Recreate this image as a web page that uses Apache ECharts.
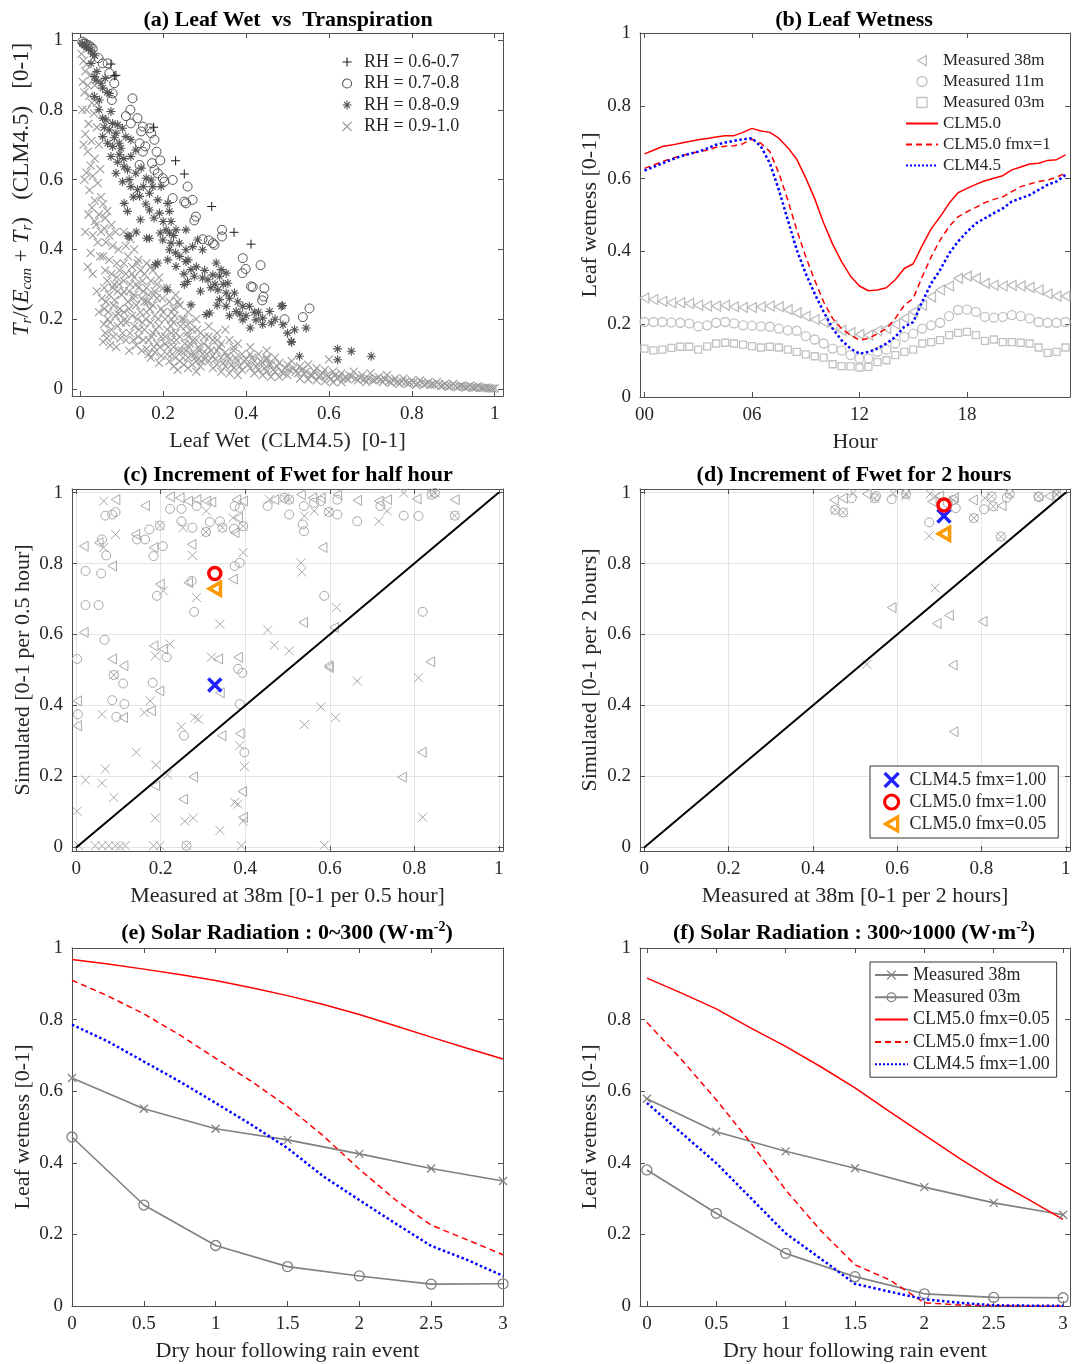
<!DOCTYPE html>
<html><head><meta charset="utf-8">
<script src="https://cdn.jsdelivr.net/npm/echarts@6/dist/echarts.min.js"></script>
<style>html,body{margin:0;padding:0;background:#fff}#c{width:1072px;height:1364px}</style>
</head><body><div id="c"></div>
<script>
// ================= DATA =================
const unitTicks = [0, 0.2, 0.4, 0.6, 0.8, 1];
const hourTicks = [0, 6, 12, 18];
const dryTicks = [0, 0.5, 1, 1.5, 2, 2.5, 3];

// ---- (a) Leaf Wet vs Transpiration : [leaf wet, Tr/(Ecan+Tr)]
const aRH67 = [[0.074,0.931],[0.082,0.897],[0.086,0.899],[0.177,0.750],[0.230,0.654],[0.251,0.616],[0.317,0.523],[0.371,0.449],[0.412,0.415]];
const aRH78 = [[0.005,0.995],[0.012,0.99],[0.02,0.985],[0.03,0.975],[0.008,0.99],[0.016,0.985],[0.025,0.98],[0.044,0.948],[0.054,0.933],[0.066,0.933],[0.070,0.905],[0.082,0.876],[0.078,0.847],[0.076,0.828],[0.126,0.833],[0.121,0.800],[0.110,0.782],[0.138,0.776],[0.122,0.761],[0.151,0.752],[0.167,0.747],[0.147,0.738],[0.171,0.733],[0.179,0.714],[0.143,0.704],[0.157,0.695],[0.184,0.680],[0.151,0.680],[0.193,0.655],[0.143,0.642],[0.173,0.647],[0.179,0.628],[0.187,0.618],[0.199,0.604],[0.203,0.594],[0.223,0.599],[0.259,0.580],[0.223,0.547],[0.251,0.537],[0.255,0.532],[0.271,0.542],[0.279,0.494],[0.275,0.483],[0.342,0.456],[0.342,0.437],[0.295,0.429],[0.310,0.426],[0.320,0.418],[0.324,0.413],[0.392,0.375],[0.435,0.355],[0.399,0.344],[0.391,0.332],[0.412,0.294],[0.416,0.292],[0.444,0.289],[0.442,0.265],[0.439,0.254],[0.553,0.231],[0.493,0.200],[0.537,0.206]];
const aRH89 = [[0.005,0.99],[0.01,0.985],[0.015,0.98],[0.02,0.975],[0.025,0.97],[0.03,0.96],[0.035,0.955],[0.026,0.933],[0.034,0.895],[0.038,0.885],[0.050,0.876],[0.054,0.862],[0.034,0.838],[0.046,0.828],[0.070,0.847],[0.074,0.795],[0.054,0.776],[0.062,0.771],[0.078,0.761],[0.090,0.757],[0.054,0.723],[0.070,0.742],[0.086,0.733],[0.102,0.747],[0.110,0.723],[0.066,0.704],[0.078,0.695],[0.094,0.704],[0.122,0.714],[0.074,0.666],[0.094,0.671],[0.122,0.666],[0.134,0.685],[0.106,0.637],[0.114,0.628],[0.134,0.618],[0.147,0.633],[0.086,0.618],[0.102,0.594],[0.122,0.580],[0.138,0.571],[0.159,0.604],[0.171,0.599],[0.175,0.580],[0.167,0.561],[0.143,0.552],[0.106,0.532],[0.114,0.509],[0.167,0.513],[0.187,0.542],[0.195,0.580],[0.191,0.504],[0.211,0.532],[0.215,0.509],[0.219,0.480],[0.207,0.456],[0.167,0.432],[0.118,0.437],[0.199,0.427],[0.215,0.447],[0.231,0.456],[0.255,0.456],[0.219,0.418],[0.215,0.399],[0.239,0.418],[0.255,0.399],[0.271,0.408],[0.283,0.427],[0.295,0.399],[0.211,0.370],[0.231,0.351],[0.187,0.361],[0.255,0.365],[0.267,0.342],[0.275,0.323],[0.259,0.308],[0.295,0.318],[0.308,0.313],[0.320,0.327],[0.336,0.323],[0.328,0.361],[0.340,0.342],[0.352,0.332],[0.356,0.303],[0.332,0.284],[0.352,0.275],[0.372,0.275],[0.336,0.256],[0.312,0.218],[0.304,0.213],[0.352,0.237],[0.376,0.222],[0.392,0.237],[0.408,0.237],[0.392,0.198],[0.424,0.198],[0.440,0.203],[0.457,0.222],[0.461,0.189],[0.485,0.237],[0.489,0.184],[0.509,0.136],[0.517,0.170],[0.545,0.175],[0.529,0.094],[0.267,0.241],[0.251,0.299],[0.621,0.115],[0.621,0.084],[0.654,0.108],[0.702,0.094],[0.488,0.239],[0.510,0.134],[0.115,0.439],[0.160,0.432],[0.193,0.447],[0.210,0.284],[0.181,0.356],
[0.04,0.91],[0.06,0.89],[0.065,0.85],[0.045,0.8],[0.058,0.75],[0.082,0.72],[0.098,0.69],[0.105,0.66],[0.09,0.65],[0.118,0.6],[0.128,0.55],[0.152,0.58],[0.158,0.53],[0.178,0.49],[0.2,0.48],[0.225,0.44],[0.24,0.38],[0.26,0.37],[0.28,0.35],[0.3,0.34],[0.315,0.29],[0.325,0.3],[0.345,0.3],[0.36,0.26],[0.38,0.25],[0.4,0.21],[0.42,0.22],[0.44,0.185],[0.47,0.2],[0.5,0.16],[0.23,0.39],[0.25,0.33],[0.29,0.28],[0.33,0.24],[0.36,0.21],[0.385,0.215],[0.41,0.175],[0.43,0.22],[0.145,0.485],[0.135,0.45]];
const aRH910 = [[0.003,0.96],[0.008,0.94],[0.012,0.91],[0.006,0.88],[0.018,0.87],[0.022,0.84],[0.01,0.85],[0.028,0.82],[0.015,0.80],[0.033,0.79],[0.02,0.76],[0.04,0.75],[0.012,0.73],[0.027,0.71],[0.045,0.70],[0.018,0.68],[0.035,0.66],[0.025,0.64],[0.048,0.63],[0.03,0.61],[0.042,0.59],[0.022,0.57],[0.05,0.55],[0.035,0.54],[0.028,0.52],[0.045,0.50],[0.038,0.47],[0.05,0.45],[0.03,0.44],[0.042,0.42],[0.025,0.39],[0.048,0.38],
[0.005,0.8],[0.008,0.7],[0.01,0.6],[0.015,0.62],[0.02,0.5],[0.012,0.45],[0.018,0.35],[0.03,0.33],[0.04,0.28],[0.035,0.48],[0.045,0.22],[0.015,0.93],[0.025,0.9],[0.035,0.87],[0.04,0.82],
[0.055,0.53],[0.065,0.51],[0.06,0.49],[0.075,0.47],[0.058,0.46],[0.07,0.44],[0.085,0.45],[0.062,0.42],[0.078,0.41],[0.092,0.40],[0.055,0.38],[0.07,0.37],[0.088,0.36],[0.06,0.34],[0.075,0.33],[0.095,0.34],[0.065,0.31],[0.082,0.30],[0.058,0.29],[0.09,0.28],[0.07,0.27],[0.1,0.27],[0.062,0.25],[0.08,0.24],[0.095,0.23],[0.068,0.22],[0.085,0.21],[0.072,0.19],[0.09,0.18],[0.06,0.16],[0.08,0.15],[0.055,0.135],
[0.052,0.26],[0.058,0.23],[0.066,0.2],[0.075,0.17],[0.083,0.255],[0.092,0.215],[0.098,0.19],[0.057,0.185],[0.064,0.145],[0.072,0.125],[0.087,0.12],[0.097,0.145],[0.078,0.29],[0.088,0.32],[0.094,0.3],
[0.105,0.45],[0.12,0.43],[0.11,0.41],[0.13,0.40],[0.115,0.38],[0.14,0.37],[0.105,0.36],[0.125,0.35],[0.145,0.34],[0.11,0.33],[0.13,0.32],[0.15,0.31],[0.12,0.30],[0.14,0.29],[0.105,0.28],[0.13,0.27],[0.148,0.26],[0.115,0.25],[0.135,0.24],[0.105,0.22],[0.125,0.21],[0.145,0.22],[0.11,0.19],[0.13,0.18],[0.15,0.19],[0.12,0.16],[0.14,0.15],[0.11,0.14],[0.135,0.125],
[0.102,0.16],[0.108,0.2],[0.118,0.23],[0.128,0.26],[0.138,0.2],[0.142,0.17],[0.152,0.14],[0.158,0.2],[0.168,0.23],[0.172,0.15],[0.182,0.17],[0.188,0.2],[0.192,0.12],[0.198,0.26],[0.118,0.11],[0.128,0.14],[0.148,0.11],[0.165,0.1],[0.178,0.12],[0.19,0.075],[0.105,0.31],[0.118,0.28],[0.135,0.3],[0.152,0.28],[0.162,0.25],[0.178,0.27],[0.185,0.3],[0.125,0.33],[0.138,0.36],[0.17,0.35],
[0.16,0.36],[0.175,0.34],[0.155,0.33],[0.17,0.31],[0.19,0.32],[0.16,0.29],[0.18,0.28],[0.2,0.29],[0.165,0.27],[0.185,0.26],[0.155,0.25],[0.175,0.24],[0.195,0.23],[0.16,0.22],[0.18,0.21],[0.2,0.22],[0.17,0.19],[0.19,0.18],[0.155,0.17],[0.175,0.16],[0.195,0.15],[0.165,0.14],[0.185,0.13],[0.16,0.115],[0.18,0.105],[0.195,0.095],[0.17,0.09],
[0.21,0.29],[0.23,0.27],[0.215,0.25],[0.24,0.24],[0.22,0.22],[0.205,0.20],[0.225,0.19],[0.245,0.20],[0.21,0.17],[0.23,0.16],[0.22,0.14],[0.24,0.15],[0.205,0.13],[0.225,0.12],[0.245,0.11],[0.21,0.10],[0.23,0.09],[0.215,0.08],[0.24,0.08],[0.225,0.065],[0.25,0.07],[0.235,0.055],
[0.205,0.15],[0.212,0.12],[0.218,0.18],[0.222,0.1],[0.228,0.21],[0.232,0.14],[0.238,0.11],[0.242,0.18],[0.248,0.09],[0.252,0.13],[0.258,0.16],[0.262,0.12],[0.268,0.1],[0.272,0.14],[0.278,0.09],[0.282,0.17],[0.288,0.11],[0.292,0.08],[0.298,0.13],[0.235,0.25],[0.25,0.2],[0.265,0.19],[0.22,0.16],[0.22,0.2],[0.225,0.23],
[0.26,0.22],[0.28,0.20],[0.255,0.18],[0.27,0.17],[0.29,0.16],[0.26,0.15],[0.28,0.14],[0.3,0.15],[0.265,0.13],[0.285,0.12],[0.255,0.11],[0.275,0.10],[0.295,0.10],[0.26,0.09],[0.28,0.08],[0.3,0.085],[0.27,0.07],[0.29,0.065],[0.26,0.06],[0.28,0.05],
[0.31,0.18],[0.33,0.16],[0.35,0.17],[0.32,0.14],[0.34,0.13],[0.36,0.14],[0.38,0.13],[0.31,0.12],[0.33,0.11],[0.35,0.105],[0.37,0.11],[0.39,0.10],[0.32,0.095],[0.34,0.09],[0.36,0.085],[0.38,0.08],[0.4,0.085],[0.31,0.08],[0.33,0.07],[0.35,0.065],[0.37,0.06],[0.39,0.055],[0.32,0.06],[0.34,0.05],[0.36,0.045],[0.38,0.04],
[0.305,0.1],[0.315,0.11],[0.325,0.085],[0.335,0.12],[0.345,0.075],[0.355,0.095],[0.365,0.07],[0.375,0.09],[0.385,0.065],[0.395,0.08],[0.405,0.07],[0.415,0.09],[0.425,0.065],[0.435,0.08],[0.445,0.06],[0.455,0.07],[0.465,0.055],[0.475,0.065],[0.485,0.05],[0.495,0.06],[0.33,0.14],[0.37,0.12],[0.41,0.1],[0.45,0.085],[0.31,0.15],
[0.41,0.12],[0.43,0.10],[0.45,0.11],[0.47,0.09],[0.42,0.08],[0.44,0.075],[0.46,0.07],[0.48,0.075],[0.5,0.07],[0.41,0.06],[0.43,0.055],[0.45,0.05],[0.47,0.05],[0.49,0.045],[0.42,0.045],[0.44,0.04],[0.46,0.035],[0.48,0.035],[0.5,0.04],[0.45,0.09],
[0.51,0.08],[0.53,0.065],[0.55,0.07],[0.57,0.06],[0.59,0.055],[0.61,0.05],[0.63,0.045],[0.52,0.05],[0.54,0.045],[0.56,0.04],[0.58,0.04],[0.6,0.035],[0.62,0.03],[0.64,0.035],[0.53,0.03],[0.55,0.028],[0.57,0.025],[0.59,0.022],[0.61,0.02],[0.63,0.02],[0.65,0.04],[0.6,0.085],
[0.505,0.055],[0.515,0.06],[0.525,0.045],[0.535,0.055],[0.545,0.05],[0.555,0.04],[0.565,0.05],[0.575,0.035],[0.585,0.045],[0.595,0.04],[0.605,0.03],[0.615,0.04],[0.625,0.035],[0.635,0.03],[0.645,0.028],[0.655,0.035],[0.665,0.03],[0.675,0.032],[0.685,0.028],[0.695,0.03],[0.705,0.025],[0.715,0.03],[0.725,0.026],[0.735,0.028],[0.745,0.022],[0.755,0.025],[0.765,0.02],[0.775,0.022],[0.785,0.02],[0.795,0.018],[0.805,0.02],[0.815,0.016],[0.825,0.018],[0.835,0.015],[0.845,0.012],[0.855,0.012],[0.865,0.013],[0.875,0.01],[0.885,0.01],[0.895,0.009],[0.905,0.008],[0.915,0.008],[0.925,0.007],[0.935,0.006],[0.945,0.005],[0.955,0.005],[0.965,0.004],[0.975,0.003],[0.985,0.002],[0.995,0.001],
[0.66,0.05],[0.68,0.04],[0.7,0.045],[0.72,0.035],[0.74,0.04],[0.76,0.03],[0.78,0.03],[0.8,0.025],[0.82,0.025],[0.84,0.02],[0.67,0.025],[0.69,0.02],[0.71,0.025],[0.73,0.02],[0.75,0.018],[0.77,0.015],[0.79,0.015],[0.81,0.012],[0.83,0.012],[0.85,0.015],
[0.86,0.02],[0.88,0.015],[0.9,0.015],[0.92,0.01],[0.94,0.01],[0.96,0.008],[0.98,0.005],[1.0,0.002],[0.87,0.008],[0.89,0.006],[0.91,0.005],[0.93,0.004],[0.95,0.004],[0.97,0.003],[0.99,0.002]];

// ---- (b) Leaf Wetness diurnal cycle
const bHours = [0,0.5,1,1.5,2,2.5,3,3.5,4,4.5,5,5.5,6,6.5,7,7.5,8,8.5,9,9.5,10,10.5,11,11.5,12,12.5,13,13.5,14,14.5,15,15.5,16,16.5,17,17.5,18,18.5,19,19.5,20,20.5,21,21.5,22,22.5,23,23.5];
const bMeas38 = [0.272,0.268,0.263,0.259,0.259,0.257,0.252,0.250,0.250,0.252,0.248,0.246,0.246,0.248,0.250,0.248,0.240,0.231,0.222,0.213,0.206,0.197,0.183,0.177,0.172,0.170,0.182,0.188,0.200,0.216,0.234,0.252,0.275,0.294,0.305,0.326,0.332,0.326,0.312,0.307,0.305,0.307,0.305,0.301,0.294,0.283,0.277,0.277];
const bMeas11 = [0.206,0.206,0.206,0.205,0.204,0.202,0.194,0.197,0.204,0.206,0.202,0.197,0.196,0.194,0.193,0.188,0.183,0.182,0.167,0.158,0.147,0.133,0.128,0.115,0.106,0.106,0.124,0.130,0.147,0.165,0.174,0.188,0.197,0.204,0.222,0.239,0.240,0.234,0.220,0.218,0.220,0.225,0.222,0.216,0.206,0.204,0.204,0.206];
const bMeas03 = [0.133,0.128,0.130,0.135,0.138,0.138,0.130,0.139,0.147,0.149,0.147,0.144,0.140,0.136,0.138,0.136,0.130,0.124,0.117,0.112,0.108,0.090,0.085,0.084,0.081,0.083,0.096,0.101,0.115,0.124,0.130,0.147,0.151,0.156,0.170,0.176,0.179,0.170,0.154,0.158,0.151,0.151,0.149,0.147,0.136,0.121,0.124,0.136];
const bClm50 = [0.668,0.678,0.688,0.692,0.697,0.702,0.707,0.710,0.714,0.718,0.718,0.727,0.738,0.731,0.727,0.711,0.685,0.653,0.602,0.545,0.478,0.420,0.372,0.332,0.305,0.292,0.294,0.300,0.322,0.353,0.366,0.416,0.462,0.495,0.532,0.561,0.573,0.584,0.594,0.601,0.608,0.624,0.632,0.640,0.642,0.650,0.652,0.665];
const bClm50fmx1 = [0.628,0.637,0.647,0.655,0.662,0.668,0.674,0.678,0.686,0.689,0.690,0.696,0.708,0.697,0.674,0.615,0.541,0.459,0.385,0.321,0.261,0.216,0.188,0.170,0.156,0.161,0.174,0.188,0.216,0.252,0.271,0.330,0.385,0.431,0.468,0.495,0.509,0.521,0.534,0.543,0.550,0.564,0.578,0.585,0.592,0.596,0.604,0.615];
const bClm45 = [0.622,0.632,0.642,0.652,0.661,0.668,0.674,0.683,0.693,0.699,0.704,0.708,0.711,0.688,0.642,0.569,0.486,0.404,0.339,0.284,0.234,0.188,0.156,0.133,0.119,0.124,0.133,0.147,0.165,0.193,0.206,0.261,0.312,0.349,0.394,0.427,0.454,0.477,0.491,0.505,0.518,0.537,0.546,0.555,0.569,0.583,0.592,0.610];

// ---- (c) Increment of Fwet for half hour : [measured, simulated]
const cTri = [[0.093,0.980],[0.163,0.963],[0.222,0.988],[0.245,0.985],[0.265,0.976],[0.285,0.980],[0.308,0.976],[0.320,0.973],[0.379,0.980],[0.395,0.976],[0.469,0.980],[0.140,0.882],[0.375,0.887],[0.383,0.929],[0.018,0.849],[0.053,0.859],[0.183,0.845],[0.273,0.854],[0.085,0.793],[0.198,0.742],[0.265,0.746],[0.371,0.756],[0.018,0.606],[0.183,0.568],[0.206,0.559],[0.085,0.531],[0.112,0.512],[0.336,0.531],[0.383,0.536],
[0.532,0.994],[0.559,0.985],[0.579,0.985],[0.618,0.994],[0.665,0.978],[0.716,0.976],[0.736,0.980],[0.806,0.982],[0.896,0.980],[0.583,0.845],[0.537,0.634],[0.610,0.620],[0.597,0.512],[0.838,0.523],
[0.002,0.413],[0.197,0.441],[0.340,0.436],[0.111,0.366],[0.177,0.385],[0.002,0.343],[0.344,0.315],[0.387,0.321],[0.187,0.174],[0.277,0.199],[0.253,0.136],[0.393,0.158],[0.395,0.085],
[0.598,0.507],[0.818,0.268],[0.771,0.198]];
const cCirc = [[0.069,0.935],[0.085,0.938],[0.093,0.945],[0.222,0.954],[0.249,0.954],[0.285,0.962],[0.375,0.962],[0.387,0.957],[0.453,0.962],[0.144,0.868],[0.163,0.868],[0.173,0.896],[0.249,0.919],[0.275,0.901],[0.316,0.917],[0.340,0.919],[0.373,0.898],[0.061,0.868],[0.071,0.823],[0.183,0.821],[0.205,0.849],[0.022,0.779],[0.059,0.772],[0.375,0.793],[0.387,0.802],[0.191,0.709],[0.273,0.751],[0.279,0.664],[0.022,0.683],[0.053,0.683],[0.067,0.585],[0.002,0.531],[0.214,0.536],[0.383,0.503],
[0.198,0.907],[0.307,0.889],[0.346,0.901],[0.395,0.905],
[0.504,0.938],[0.539,0.962],[0.563,0.971],[0.579,0.976],[0.618,0.980],[0.618,0.938],[0.536,0.910],[0.539,0.891],[0.665,0.919],[0.720,0.962],[0.775,0.935],[0.810,0.934],[0.587,0.709],[0.820,0.664],
[0.493,0.985],[0.504,0.980],[0.598,0.945],[0.841,0.994],[0.849,0.999],[0.896,0.935],
[0.111,0.462],[0.181,0.464],[0.393,0.492],[0.085,0.415],[0.114,0.404],[0.004,0.375],[0.095,0.368],[0.387,0.404],[0.255,0.315],[0.398,0.268],[0.089,0.486],[0.261,0.005]];
const cCross = [[0.065,0.976],[0.308,0.948],[0.457,0.980],[0.093,0.882],[0.253,0.901],[0.371,0.929],[0.065,0.845],[0.275,0.823],[0.395,0.831],[0.206,0.723],[0.285,0.704],[0.340,0.629],[0.453,0.613],[0.469,0.570],[0.222,0.573],[0.187,0.540],[0.320,0.536],
[0.198,0.907],[0.307,0.889],[0.346,0.901],[0.395,0.905],
[0.540,0.934],[0.563,0.948],[0.716,0.919],[0.736,0.948],[0.775,0.999],[0.532,0.802],[0.534,0.776],[0.616,0.676],[0.504,0.554],
[0.493,0.985],[0.504,0.980],[0.598,0.945],[0.841,0.994],[0.849,0.999],[0.896,0.935],
[0.175,0.413],[0.061,0.375],[0.161,0.380],[0.249,0.340],[0.281,0.366],[0.289,0.361],[0.387,0.287],[0.398,0.228],[0.142,0.268],[0.069,0.221],[0.189,0.233],[0.216,0.205],[0.022,0.190],[0.061,0.181],[0.089,0.141],[0.375,0.127],[0.383,0.122],[0.002,0.102],[0.187,0.083],[0.257,0.074],[0.277,0.083],[0.395,0.074],[0.340,0.048],[0.089,0.486],[0.261,0.005],
[0.006,0.005],[0.045,0.005],[0.061,0.005],[0.077,0.005],[0.093,0.005],[0.104,0.003],[0.116,0.005],[0.183,0.005],[0.198,0.005],[0.391,0.005],
[0.665,0.469],[0.810,0.478],[0.579,0.396],[0.614,0.366],[0.540,0.346],[0.820,0.085],[0.587,0.006]];
const cClm45 = [[0.328,0.458]];
const cClm50fmx100 = [[0.328,0.772]];
const cClm50fmx005 = [[0.328,0.729]];

// ---- (d) Increment of Fwet for 2 hours
const dTri = [[0.450,0.979],[0.472,0.984],[0.528,0.996],[0.682,0.975],[0.780,0.979],[0.848,0.963],[0.700,0.990],[0.735,0.985],[0.960,0.990],[0.587,0.676],[0.723,0.654],[0.694,0.631],[0.803,0.637],[0.732,0.514],[0.734,0.326]];
const dCirc = [[0.492,0.984],[0.587,0.981],[0.739,0.956],[0.676,0.916],[0.806,0.953],[0.936,0.987],[0.550,0.990],[0.720,0.970],[0.860,0.985],
[0.547,0.984],[0.621,0.996],[0.453,0.951],[0.472,0.944],[0.733,0.979],[0.824,0.989],[0.828,0.961],[0.782,0.928],[0.867,0.996],[0.935,0.989],[0.978,0.993],[0.846,0.876]];
const dCross = [[0.496,0.998],[0.591,0.998],[0.678,0.996],[0.690,0.989],[0.808,0.984],[0.676,0.878],[0.690,0.731],[0.528,0.516],[0.979,0.996],[0.620,0.990],
[0.547,0.984],[0.621,0.996],[0.453,0.951],[0.472,0.944],[0.733,0.979],[0.824,0.989],[0.828,0.961],[0.782,0.928],[0.867,0.996],[0.935,0.989],[0.978,0.993],[0.846,0.876]];
const dClm45 = [[0.711,0.934]];
const dClm50fmx100 = [[0.711,0.965]];
const dClm50fmx005 = [[0.711,0.884]];

const oneToOne = [[0,0],[1,1]];

// ---- (e)/(f) Dry hours following rain event
const dryHours = [0,0.5,1,1.5,2,2.5,3];
const dryHoursSim = [0,0.25,0.5,0.75,1,1.25,1.5,1.75,2,2.25,2.5,2.75,3];
const eMeas38 = [0.637,0.551,0.495,0.464,0.425,0.384,0.349];
const eMeas03 = [0.472,0.282,0.169,0.110,0.084,0.061,0.062];
const eClm50fmx005 = [0.968,0.955,0.941,0.926,0.909,0.889,0.867,0.842,0.814,0.783,0.751,0.720,0.690];
const eClm50fmx100 = [0.910,0.866,0.816,0.757,0.692,0.627,0.557,0.475,0.382,0.297,0.226,0.185,0.143];
const eClm45fmx100 = [0.786,0.739,0.683,0.627,0.567,0.506,0.441,0.362,0.296,0.231,0.168,0.129,0.084];
const fMeas38 = [0.579,0.487,0.432,0.385,0.332,0.288,0.255];
const fMeas03 = [0.380,0.259,0.147,0.082,0.034,0.024,0.023];
const fClm50fmx005 = [0.916,0.874,0.830,0.776,0.725,0.669,0.609,0.543,0.478,0.413,0.352,0.298,0.242];
const fClm50fmx100 = [0.792,0.688,0.576,0.455,0.324,0.212,0.115,0.073,0.009,0.003,0.001,0,0];
const fClm45fmx100 = [0.567,0.483,0.399,0.301,0.203,0.133,0.062,0.040,0.019,0.009,0.002,0.001,0.001];

// ================= STYLE / BUILD =================
const FONT = 'Liberation Serif';
const AX = '#505050';
const TXT = '#262626';
const SYM_X = 'path://M0,0L10,10M0,10L10,0';
const SYM_PLUS = 'path://M5,0L5,10M0,5L10,5';
const SYM_AST = 'path://M5,0L5,10M0,5L10,5M1.6,1.6L8.4,8.4M1.6,8.4L8.4,1.6';
const SYM_TRIL = 'path://M8.66,0L0,5L8.66,10Z';
const SYM_SQ = 'path://M0,0L10,0L10,10L0,10Z';
const CLEAR = 'rgba(0,0,0,0)';
const RED = '#ff0000', BLUE = '#0000ff', ORANGE = '#ff9900', GREY = '#808080';

const numFmt = v => String(Math.round(v * 100) / 100);
const hourFmt = v => (v < 10 ? '0' : '') + v;
const strip = n => n.slice(n.indexOf('|') + 1);
const pairs = (xs, ys) => xs.map((x, i) => [x, ys[i]]);
const lineOnly = name => ({name, itemStyle: {color: CLEAR, borderColor: CLEAR, borderWidth: 0}});

const grids = [
  {left: 72, top: 33, width: 431, height: 363},
  {left: 640, top: 33, width: 430, height: 364},
  {left: 72, top: 489, width: 431, height: 362},
  {left: 640, top: 489, width: 430, height: 362},
  {left: 72, top: 948, width: 431, height: 358},
  {left: 640, top: 948, width: 430, height: 358}
].map(g => Object.assign(g, {containLabel: false, outerBoundsMode: 'none'}));

const xAxes = [], yAxes = [];
function addAxes(gi, xr, xt, yr, yt, o) {
  const base = {type: 'value', gridIndex: gi,
    axisLine: {show: true, onZero: false, lineStyle: {color: AX, width: 1}},
    axisPointer: {show: false}};
  const tick = t => ({show: true, inside: true, length: 5, customValues: t, lineStyle: {color: AX, width: 1}});
  const nameStyle = {fontFamily: FONT, fontSize: 22, color: TXT};
  const split = {show: !!o.grid, lineStyle: {color: '#e4e4e4', width: 1}};
  xAxes.push(Object.assign({}, base, {min: xr[0], max: xr[1], position: 'bottom', axisTick: tick(xt),
    axisLabel: {show: true, customValues: xt, margin: 9, color: TXT, fontFamily: FONT, fontSize: 19, formatter: o.xFmt || numFmt},
    splitLine: split, name: o.xName, nameLocation: 'middle', nameGap: 34, nameTextStyle: nameStyle}));
  xAxes.push(Object.assign({}, base, {min: xr[0], max: xr[1], position: 'top', axisTick: tick(xt),
    axisLabel: {show: false}, splitLine: {show: false}}));
  yAxes.push(Object.assign({}, base, {min: yr[0], max: yr[1], position: 'left', axisTick: tick(yt),
    axisLabel: {show: true, customValues: yt, margin: 9, color: TXT, fontFamily: FONT, fontSize: 19, formatter: numFmt},
    splitLine: split, name: o.yName, nameLocation: 'middle', nameRotate: 90, nameGap: o.yGap || 38,
    nameTextStyle: o.yNameStyle || nameStyle}));
  yAxes.push(Object.assign({}, base, {min: yr[0], max: yr[1], position: 'right', axisTick: tick(yt),
    axisLabel: {show: false}, splitLine: {show: false}}));
}

addAxes(0, [-0.02, 1.02], unitTicks, [-0.02, 1.02], unitTicks, {
  xName: 'Leaf Wet  (CLM4.5)  [0-1]', yGap: 37,
  yName: '{i|T}{s|r}{n|/(}{i|E}{s|can}{n| + }{i|T}{s|r}{n|)   (CLM4.5)   [0-1]}',
  yNameStyle: {fontFamily: FONT, fontSize: 23, color: TXT, padding: [0, 0, 0, 50],
    rich: {
      i: {fontFamily: FONT, fontStyle: 'italic', fontSize: 23, lineHeight: 26, color: TXT},
      s: {fontFamily: FONT, fontStyle: 'italic', fontSize: 15, lineHeight: 15, verticalAlign: 'bottom', color: TXT},
      n: {fontFamily: FONT, fontSize: 23, lineHeight: 26, color: TXT}
    }}
});
addAxes(1, [-0.25, 23.75], hourTicks, [0, 1], unitTicks, {xName: 'Hour', yName: 'Leaf wetness [0-1]', xFmt: hourFmt, yGap: 39});
addAxes(2, [-0.01, 1.01], unitTicks, [-0.01, 1.01], unitTicks, {grid: true, xName: 'Measured at 38m [0-1 per 0.5 hour]', yName: 'Simulated [0-1 per 0.5 hour]', yGap: 38});
addAxes(3, [-0.01, 1.01], unitTicks, [-0.01, 1.01], unitTicks, {grid: true, xName: 'Measured at 38m [0-1 per 2 hours]', yName: 'Simulated [0-1 per 2 hours]', yGap: 39});
addAxes(4, [0, 3], dryTicks, [0, 1], unitTicks, {xName: 'Dry hour following rain event', yName: 'Leaf wetness [0-1]', yGap: 38});
addAxes(5, [-0.05, 3.05], dryTicks, [0, 1], unitTicks, {xName: 'Dry hour following rain event', yName: 'Leaf wetness [0-1]', yGap: 39});

function sc(name, gi, data, symbol, size, color, lw, z) {
  return {type: 'scatter', name, xAxisIndex: 2 * gi, yAxisIndex: 2 * gi, data, symbol, symbolSize: size,
    symbolKeepAspect: true, clip: false, silent: true, z: z || 2,
    itemStyle: {color: CLEAR, borderColor: color, borderWidth: lw, opacity: 1}};
}
function ln(name, gi, data, color, width, type, z) {
  return {type: 'line', name, xAxisIndex: 2 * gi, yAxisIndex: 2 * gi, data, symbol: 'none', silent: true, z: z || 3,
    itemStyle: {color: color}, lineStyle: {color: color, width: width, type: type}};
}
function mln(name, gi, data, symbol, size) {
  return {type: 'line', name, xAxisIndex: 2 * gi, yAxisIndex: 2 * gi, data, symbol, symbolSize: size, showSymbol: true,
    symbolKeepAspect: true, silent: true, z: 3,
    itemStyle: {color: CLEAR, borderColor: GREY, borderWidth: 1.3, opacity: 1}, lineStyle: {color: GREY, width: 1.6}};
}

const series = [
  // (a)
  sc('a|RH = 0.9-1.0', 0, aRH910, SYM_X, 8, '#9c9c9c', 1.1, 2),
  sc('a|RH = 0.8-0.9', 0, aRH89, SYM_AST, 9, '#555555', 1.1, 3),
  sc('a|RH = 0.7-0.8', 0, aRH78, 'circle', 9, '#555555', 1, 4),
  sc('a|RH = 0.6-0.7', 0, aRH67, SYM_PLUS, 9, '#1a1a1a', 1, 5),
  // (b)
  sc('b|Measured 38m', 1, pairs(bHours, bMeas38), SYM_TRIL, 10, '#bdbdbd', 1.3, 2),
  sc('b|Measured 11m', 1, pairs(bHours, bMeas11), 'circle', 9, '#c2c2c2', 1.3, 2),
  sc('b|Measured 03m', 1, pairs(bHours, bMeas03), SYM_SQ, 7, '#c2c2c2', 1.3, 2),
  ln('b|CLM5.0', 1, pairs(bHours, bClm50), RED, 1.5, 'solid'),
  ln('b|CLM5.0 fmx=1', 1, pairs(bHours, bClm50fmx1), RED, 1.5, [6, 4]),
  ln('b|CLM4.5', 1, pairs(bHours, bClm45), BLUE, 2.5, 'dotted'),
  // (c)
  sc('c|tri', 2, cTri, SYM_TRIL, 10, '#a8a8a8', 1, 2),
  sc('c|circ', 2, cCirc, 'circle', 9, '#a8a8a8', 1, 2),
  sc('c|cross', 2, cCross, SYM_X, 9, '#a8a8a8', 1, 2),
  ln('c|1:1', 2, oneToOne, '#000000', 2, 'solid', 4),
  sc('c|CLM4.5 fmx=1.00', 2, cClm45, SYM_X, 13, '#2222ff', 3.5, 6),
  sc('c|CLM5.0 fmx=1.00', 2, cClm50fmx100, 'circle', 12, RED, 3.5, 6),
  sc('c|CLM5.0 fmx=0.05', 2, cClm50fmx005, SYM_TRIL, 13, ORANGE, 3.5, 6),
  // (d)
  sc('d|tri', 3, dTri, SYM_TRIL, 10, '#a8a8a8', 1, 2),
  sc('d|circ', 3, dCirc, 'circle', 9, '#a8a8a8', 1, 2),
  sc('d|cross', 3, dCross, SYM_X, 9, '#a8a8a8', 1, 2),
  ln('d|1:1', 3, oneToOne, '#000000', 2, 'solid', 4),
  sc('d|CLM4.5 fmx=1.00', 3, dClm45, SYM_X, 13, '#2222ff', 3.5, 6),
  sc('d|CLM5.0 fmx=1.00', 3, dClm50fmx100, 'circle', 12, RED, 3.5, 6),
  sc('d|CLM5.0 fmx=0.05', 3, dClm50fmx005, SYM_TRIL, 13, ORANGE, 3.5, 6),
  // (e)
  mln('e|Measured 38m', 4, pairs(dryHours, eMeas38), SYM_X, 8),
  mln('e|Measured 03m', 4, pairs(dryHours, eMeas03), 'circle', 10),
  ln('e|CLM5.0 fmx=0.05', 4, pairs(dryHoursSim, eClm50fmx005), RED, 1.5, 'solid'),
  ln('e|CLM5.0 fmx=1.00', 4, pairs(dryHoursSim, eClm50fmx100), RED, 1.5, [6, 4]),
  ln('e|CLM4.5 fmx=1.00', 4, pairs(dryHoursSim, eClm45fmx100), BLUE, 2.5, 'dotted'),
  // (f)
  mln('f|Measured 38m', 5, pairs(dryHours, fMeas38), SYM_X, 8),
  mln('f|Measured 03m', 5, pairs(dryHours, fMeas03), 'circle', 10),
  ln('f|CLM5.0 fmx=0.05', 5, pairs(dryHoursSim, fClm50fmx005), RED, 1.5, 'solid'),
  ln('f|CLM5.0 fmx=1.00', 5, pairs(dryHoursSim, fClm50fmx100), RED, 1.5, [6, 4]),
  ln('f|CLM4.5 fmx=1.00', 5, pairs(dryHoursSim, fClm45fmx100), BLUE, 2.5, 'dotted')
];

const titleStyle = {fontFamily: FONT, fontWeight: 'bold', fontSize: 22, color: '#000', lineHeight: 26,
  rich: {sup: {fontFamily: FONT, fontWeight: 'bold', fontSize: 14, lineHeight: 14, verticalAlign: 'top', color: '#000'}}};
const mkTitle = (text, x, y) => ({text, left: x, top: y, textAlign: 'center', padding: 0, textStyle: titleStyle});

const legText = {fontFamily: FONT, fontSize: 17, color: TXT, lineHeight: 17};
const legText18 = {fontFamily: FONT, fontSize: 18, color: TXT, lineHeight: 18};
const option = {
  animation: false,
  backgroundColor: '#ffffff',
  title: [
    mkTitle('(a) Leaf Wet  vs  Transpiration', 288, 7),
    mkTitle('(b) Leaf Wetness', 854, 7),
    mkTitle('(c) Increment of Fwet for half hour', 288, 462),
    mkTitle('(d) Increment of Fwet for 2 hours', 854, 462),
    mkTitle('(e) Solar Radiation : 0~300 (W·m{sup|-2})', 287, 920),
    mkTitle('(f) Solar Radiation : 300~1000 (W·m{sup|-2})', 854, 920)
  ],
  grid: grids,
  xAxis: xAxes,
  yAxis: yAxes,
  legend: [
    {orient: 'vertical', left: 342, top: 53, padding: 0, itemWidth: 24, itemHeight: 9, itemGap: 3.5,
      selectedMode: false, formatter: strip, textStyle: legText18, itemStyle: {color: CLEAR, borderWidth: 1.1},
      data: ['a|RH = 0.6-0.7', 'a|RH = 0.7-0.8', 'a|RH = 0.8-0.9', 'a|RH = 0.9-1.0']},
    {orient: 'vertical', left: 905, top: 52, padding: 0, itemWidth: 32, itemHeight: 10, itemGap: 4,
      selectedMode: false, formatter: strip, textStyle: legText, itemStyle: {color: CLEAR, borderWidth: 1.3},
      data: ['b|Measured 38m', 'b|Measured 11m', 'b|Measured 03m', lineOnly('b|CLM5.0'), lineOnly('b|CLM5.0 fmx=1'), lineOnly('b|CLM4.5')]},
    {orient: 'vertical', left: 870, top: 766, padding: [5, 12, 5, 13], itemWidth: 26, itemHeight: 14, itemGap: 4,
      borderColor: '#333', borderWidth: 1, backgroundColor: '#fff',
      selectedMode: false, formatter: strip, textStyle: legText18, itemStyle: {color: CLEAR, borderWidth: 3.2},
      data: ['d|CLM4.5 fmx=1.00', 'd|CLM5.0 fmx=1.00', 'd|CLM5.0 fmx=0.05']},
    {orient: 'vertical', left: 870, top: 962, padding: [4, 7, 4, 4], itemWidth: 33, itemHeight: 11, itemGap: 4.3,
      borderColor: '#333', borderWidth: 1, backgroundColor: '#fff',
      selectedMode: false, formatter: strip, textStyle: legText18, itemStyle: {color: CLEAR, borderWidth: 1.3},
      data: ['f|Measured 38m', 'f|Measured 03m', lineOnly('f|CLM5.0 fmx=0.05'), lineOnly('f|CLM5.0 fmx=1.00'), lineOnly('f|CLM4.5 fmx=1.00')]}
  ],
  series: series
};

const chart = echarts.init(document.getElementById('c'), null, {renderer: 'canvas', width: 1072, height: 1364});
chart.setOption(option);
</script>
</body></html>
